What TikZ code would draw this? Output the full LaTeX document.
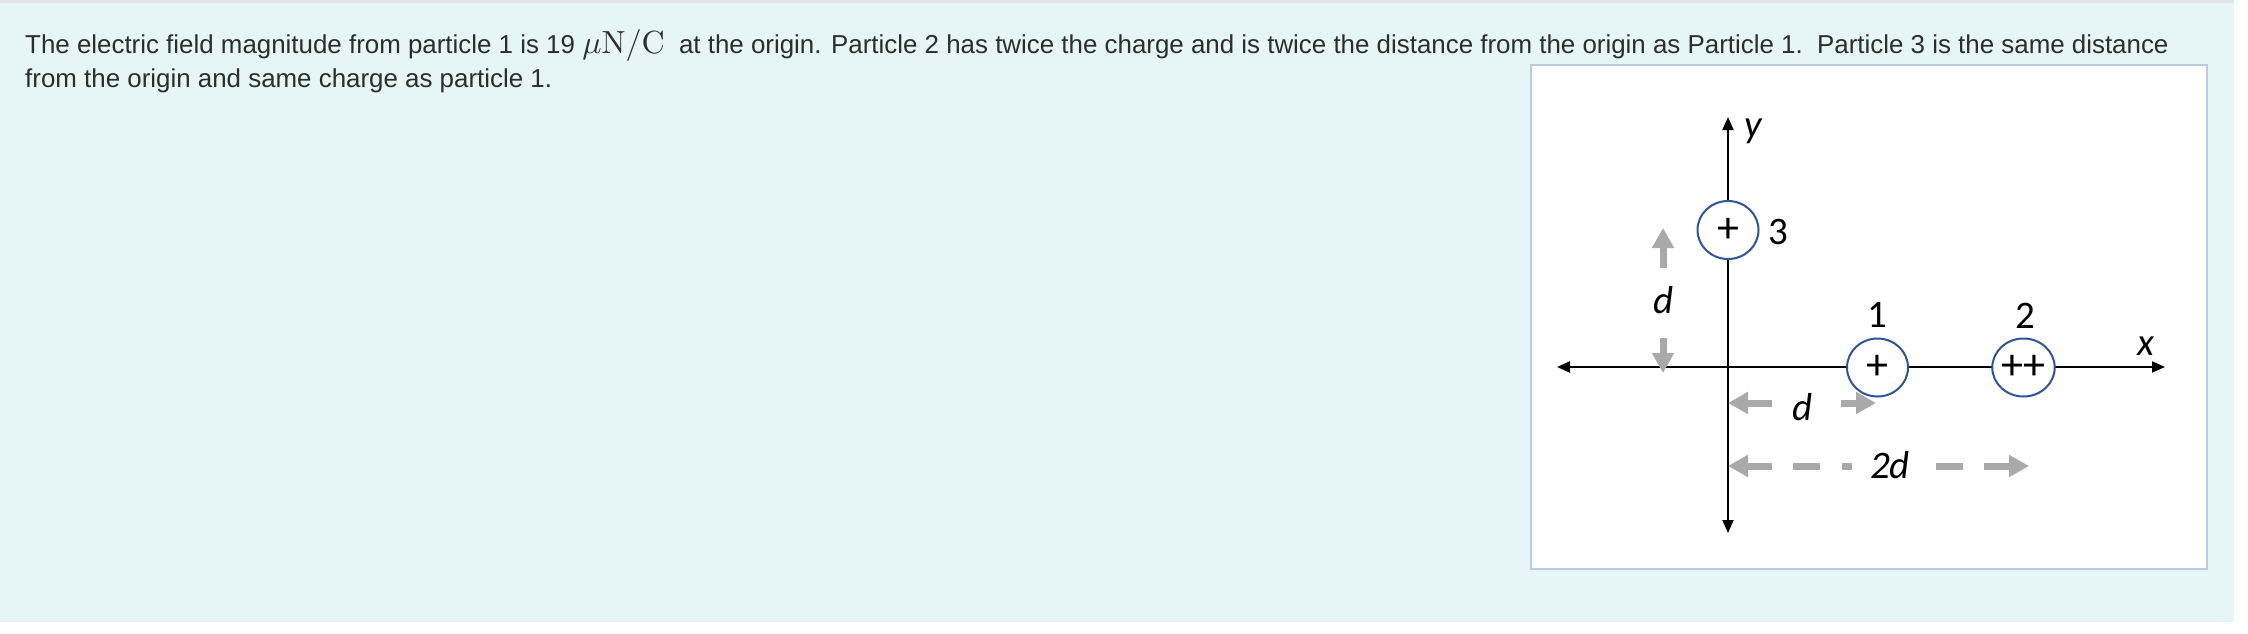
\documentclass[tikz,border=0pt]{standalone}
\usepackage{graphicx}
\usepackage[no-math]{fontspec}
\setmainfont{Liberation Sans}
\newfontfamily\carl{Carlito}
\usetikzlibrary{arrows.meta,shapes.geometric}
\definecolor{bgcyan}{RGB}{230,246,246}
\definecolor{topgrey}{RGB}{224,226,228}
\definecolor{framecol}{RGB}{186,204,222}
\definecolor{txtcol}{RGB}{45,45,45}
\definecolor{circcol}{RGB}{47,85,151}
\definecolor{arrgray}{RGB}{170,168,168}
\tikzset{
  txt/.style={font=\fontsize{25.9}{30}\selectfont, text=txtcol, inner sep=0, anchor=base west},
  lbl/.style={font=\carl\fontsize{39}{42}\selectfont, inner sep=0, anchor=base},
  ilbl/.style={font=\carl\itshape\fontsize{39}{42}\selectfont, inner sep=0, anchor=base},
  particle/.style={ellipse, draw=circcol, line width=2pt, fill=white, minimum width=61pt, minimum height=58pt, inner sep=0, font=\carl\fontsize{44}{44}\selectfont},
  axis/.style={line width=2pt, {Triangle[width=11pt,length=13pt]}-{Triangle[width=11pt,length=13pt]}},
  garrow/.style={draw=arrgray, line width=7pt, -{Triangle[width=21pt,length=20pt]}},
  gdash/.style={draw=arrgray, line width=7pt},
}
\begin{document}
\begin{tikzpicture}[x=1pt, y=-1pt]
\useasboundingbox (0,0) rectangle (2248,634);
\fill[white] (0,0) rectangle (2248,634);
\fill[bgcyan] (0,0) rectangle (2234,622);
\fill[topgrey] (0,0) rectangle (2234,3);
% question text
\node[txt] (line1) at (25,53) {The electric field magnitude from particle 1 is 19 \scalebox{3.2}{\normalsize$\mu\mathrm{N}/\mathrm{C}$}\ \ at the origin. Particle 2 has twice the charge and is twice the distance from the origin as Particle 1.\ \ Particle 3 is the same distance};
\node[txt] (line2) at (25,87) {from the origin and same charge as particle 1.};
% frame
\draw[framecol, line width=2.5pt, fill=white] (1531,65) rectangle (2207,569);
% axes
\coordinate (ytop) at (1728,117);
\coordinate (ybot) at (1728,533);
\coordinate (xleft) at (1557,367);
\coordinate (xright) at (2165,367);
\draw[axis] (ybot) -- (ytop);
\draw[axis] (xleft) -- (xright);
% particles
\node[particle] (p3) at (1728,230) {+};
\node[particle] (p1) at (1877.5,367.5) {+};
\node[particle] (p2) at (2023.5,367.5) {++};
% labels
\node[ilbl] (ylab) at (1753,137) {y};
\node[ilbl] (xlab) at (2146,355) {x};
\node[lbl] (l3) at (1778,244) {3};
\node[lbl] (l1) at (1877,327) {1};
\node[lbl] (l2) at (2025,328) {2};
% vertical d
\coordinate (vu0) at (1663,268);
\coordinate (vu1) at (1663,228);
\coordinate (vd0) at (1663,338);
\coordinate (vd1) at (1663,373);
\draw[garrow] (vu0) -- (vu1);
\draw[garrow] (vd0) -- (vd1);
\node[ilbl] (dv) at (1664,313) {d};
% horizontal d
\coordinate (h1a) at (1772,403);
\coordinate (h1b) at (1728,403);
\coordinate (h1c) at (1841,403);
\coordinate (h1d) at (1876,403);
\draw[garrow] (h1a) -- (h1b);
\draw[garrow] (h1c) -- (h1d);
\node[ilbl] (dh) at (1803,420) {d};
% 2d
\coordinate (h2a) at (1772,466);
\coordinate (h2b) at (1728,466);
\coordinate (h2c) at (1793,466);
\coordinate (h2d) at (1820,466);
\coordinate (h2e) at (1842,466);
\coordinate (h2f) at (1852,466);
\coordinate (h2g) at (1936,466);
\coordinate (h2h) at (1963,466);
\coordinate (h2i) at (1984,466);
\coordinate (h2j) at (2029,466);
\draw[garrow] (h2a) -- (h2b);
\draw[gdash] (h2c) -- (h2d);
\draw[gdash] (h2e) -- (h2f);
\draw[gdash] (h2g) -- (h2h);
\draw[garrow] (h2i) -- (h2j);
\node[ilbl] (d2) at (1890,478) {2d};
\end{tikzpicture}
\end{document}
